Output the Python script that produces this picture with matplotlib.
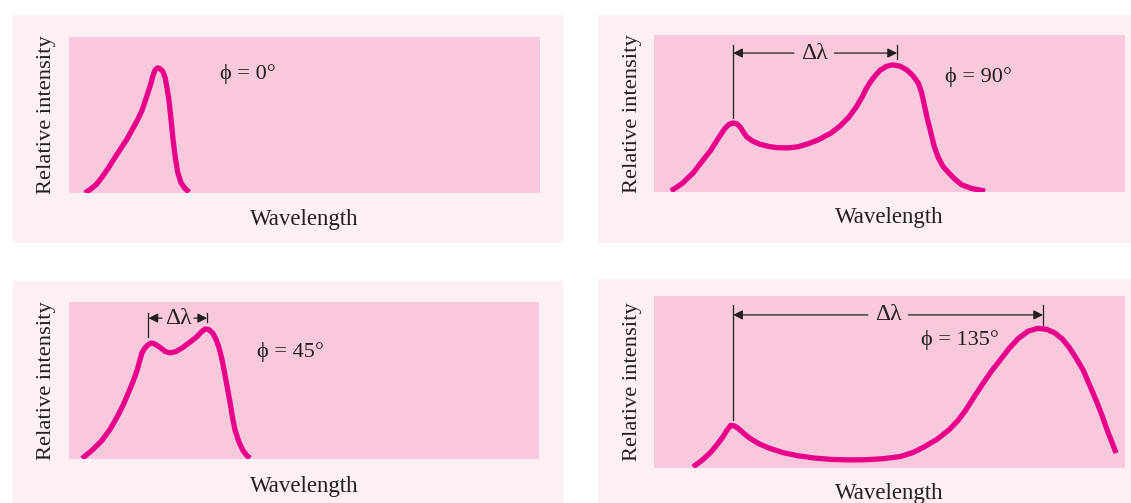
import matplotlib
matplotlib.use("Agg")
import matplotlib.pyplot as plt
from matplotlib.patches import Rectangle

# spectra (wavelength and intensity in arbitrary 0-100 units)
wl_0 = [3.4, 4.6, 5.8, 7.1, 8.5, 9.8, 11.0, 12.3, 13.4, 14.5, 15.5, 16.3, 17.0,
        17.5, 17.9, 18.3, 18.8, 19.3, 19.9, 20.4, 20.8, 21.2, 21.6, 22.1, 22.6,
        23.1, 23.8, 24.6, 25.5]
int_0 = [0, 2.5, 5.5, 10.5, 16.7, 23, 28.5, 34.5, 40.5, 46.5, 53, 60, 66.5,
         71.5, 76, 79, 80.2, 79.8, 78, 74, 67.5, 60, 49, 34, 22, 13, 6.5, 3.0,
         0.5]

wl_90 = [3.6, 6.0, 8.3, 10.2, 12.1, 13.6, 15.0, 15.9, 16.8, 17.6, 18.3, 19.0,
         19.7, 20.9, 22.3, 24.3, 26.3, 28.4, 30.4, 32.6, 34.8, 37.6, 39.5, 41.4,
         42.9, 44.2, 45.0, 45.8, 46.8, 48.0, 49.3, 50.7, 52.2, 53.7, 55.0, 56.1,
         56.8, 57.3, 58.0, 58.8, 59.5, 60.3, 61.3, 62.6, 64.0, 65.4, 67.5, 70.3]
int_90 = [0.6, 5.5, 12.1, 19.5, 26.8, 34, 40.3, 43, 44, 43.4, 41.4, 38, 35,
          32.5, 30.6, 29, 28.2, 28.1, 28.7, 30.6, 33.1, 37.6, 42, 47.8, 54,
          60.5, 65.5, 69.5, 73.5, 77.5, 80, 81, 80.2, 77.7, 74, 69.4, 63.5, 56.7,
          47, 37.6, 29, 22.3, 16.5, 12.1, 7.8, 4.5, 2.2, 0.6]

wl_45 = [2.8, 5.0, 7.0, 8.7, 10.2, 11.5, 12.6, 13.6, 14.5, 15.0, 15.5, 16.1,
         16.8, 17.4, 18.0, 18.7, 19.6, 20.5, 21.5, 22.7, 24.0, 25.6, 27.2, 28.2,
         29.0, 29.8, 30.6, 31.3, 31.9, 32.5, 33.0, 33.7, 34.3, 34.8, 35.3, 36.1,
         37.0, 37.8, 38.5]
int_45 = [0, 5.5, 11.5, 18.5, 26.3, 34, 41.7, 49, 56.4, 62, 67.3, 70.5, 72.6,
          73.7, 73.5, 72.3, 70.5, 68.3, 67.5, 68.3, 70.5, 74, 77.8, 81, 82.8,
          82.3, 80, 76, 71, 64, 56.4, 45, 35.3, 26, 18.5, 11, 5.2, 2, 0.2]

wl_135 = [8.3, 10.2, 12.1, 13.5, 14.6, 15.5, 16.3, 17.0, 17.8, 19.0, 20.2,
          22.2, 24.4, 27.3, 30.4, 34.0, 37.6, 41.3, 45.0, 48.6, 52.2, 55.0, 57.3,
          60.0, 62.6, 64.5, 66.2, 68.0, 69.9, 71.7, 73.5, 75.4, 77.3, 79.4, 81.5,
          83.4, 85.1, 86.7, 88.1, 89.6, 91.1, 92.6, 94.1, 95.2, 96.2, 97.2, 98.1]
int_135 = [0.6, 4.5, 9.3, 14, 18.0, 22, 24.8, 24.5, 23.2, 20.3, 17.6, 14.2,
           11.6, 9, 7.2, 5.8, 5, 4.7, 4.8, 5.4, 6.6, 9, 12.2, 16.5, 22.1, 27.5,
           33.7, 41.5, 49.4, 56.5, 62.8, 69.5, 75.2, 79.5, 81.2, 80.6, 78.5, 75,
           70.3, 64, 57, 47.5, 37.8, 30, 22.1, 15.2, 8.7]

# peak separations marked with delta-lambda (left peak, right peak)
delta_90 = (16.8, 51.6)
delta_45 = (16.9, 29.4)
delta_135 = (16.8, 82.6)

angle_labels = ["ϕ = 0°", "ϕ = 90°", "ϕ = 45°", "ϕ = 135°"]

W, H = 1131, 503
OUTER = "#fdf0f4"
INNER = "#f8c8dc"
CURVE = "#e8008b"
INK = "#231f20"
FAM = ["Liberation Serif", "DejaVu Serif"]
plt.rcParams["font.family"] = FAM

fig = plt.figure(figsize=(W / 100, H / 100), dpi=100)
fig.patch.set_facecolor("white")


def px_box(x0, y0, x1, y1):
    return [x0 / W, 1 - y1 / H, (x1 - x0) / W, (y1 - y0) / H]


# outer light boxes
for x0, y0, x1, y1 in [(13, 15, 563, 243), (598, 15, 1131, 243),
                       (13, 281, 563, 503), (598, 279, 1131, 503)]:
    b = px_box(x0, y0, x1, y1)
    fig.add_artist(Rectangle((b[0], b[1]), b[2], b[3], transform=fig.transFigure,
                             facecolor=OUTER, edgecolor="none", zorder=0))

inner_boxes = [(69, 37, 540, 193), (654, 35, 1125, 192),
               (69, 302, 539, 458.5), (654, 296, 1125, 468)]
spectra = [(wl_0, int_0), (wl_90, int_90), (wl_45, int_45), (wl_135, int_135)]
label_pos = [(32.1, 76), (61.8, 73), (40.0, 68), (56.7, 74.4)]
wl_label_off = [27, 25, 28, 25]

axes = []
for i, box in enumerate(inner_boxes):
    ax = fig.add_axes(px_box(*box))
    ax.set_facecolor(INNER)
    ax.set_xlim(0, 100)
    ax.set_ylim(0, 100)
    ax.set_xticks([])
    ax.set_yticks([])
    for s in ax.spines.values():
        s.set_visible(False)
    wl, inten = spectra[i]
    ax.plot(wl, inten, color=CURVE, lw=3.8, solid_capstyle="butt",
            solid_joinstyle="round")
    lx, ly = label_pos[i]
    ax.text(lx, ly, angle_labels[i], fontsize=16, color=INK, va="center",
            ha="left", family=FAM)
    # axis labels
    x0, y0, x1, y1 = box
    fig.text((x0 + x1) / 2 / W, 1 - (y1 + wl_label_off[i]) / H, "Wavelength",
             ha="center", va="center", fontsize=16.5, color=INK)
    fig.text((x0 - 22) / W, 1 - (y0 + y1) / 2 / H, "Relative intensity",
             rotation=90, ha="center", va="center", fontsize=16.2, color=INK)
    axes.append(ax)

arrow_kw = dict(arrowstyle="-|>", color=INK, lw=0.9, mutation_scale=14,
                shrinkA=0, shrinkB=0)


def mark_delta(ax, left, right, y_arrow, left_lo, top, right_lo, text_x,
               gap):
    ax.plot([left, left], [left_lo, top], color=INK, lw=0.9)
    ax.plot([right, right], [right_lo, top], color=INK, lw=0.9)
    ax.annotate("", xy=(left, y_arrow), xytext=(text_x - gap, y_arrow),
                arrowprops=arrow_kw)
    ax.annotate("", xy=(right, y_arrow), xytext=(text_x + gap, y_arrow),
                arrowprops=arrow_kw)
    ax.text(text_x, y_arrow, "Δλ", ha="center", va="center", fontsize=17,
            color=INK)


mark_delta(axes[1], delta_90[0], delta_90[1], 88.5, 47, 93.6, 84.7, 34.0, 4.3)
mark_delta(axes[2], delta_45[0], delta_45[1], 89.7, 77.6, 93.0, 87.2, 23.2, 3.4)
mark_delta(axes[3], delta_135[0], delta_135[1], 89.0, 27.9, 94.8, 83.1, 49.7, 4.3)

fig.savefig("out.png", dpi=100, facecolor="white")
